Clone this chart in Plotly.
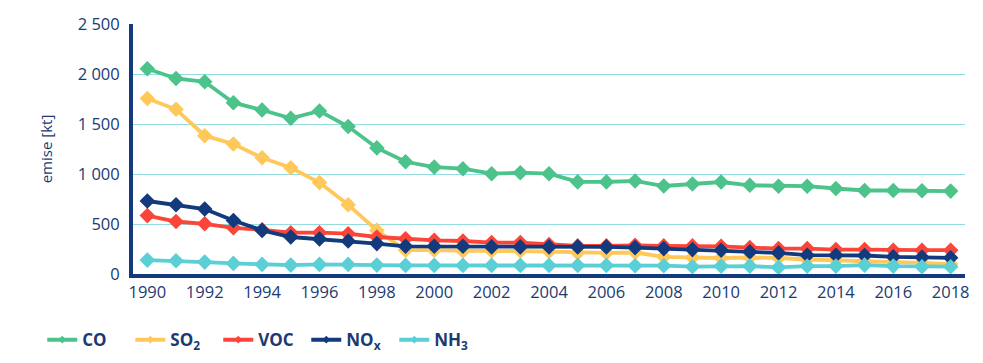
import plotly.graph_objects as go

years = list(range(1990, 2019))

co = [2052, 1955, 1922, 1713, 1640, 1557, 1630, 1475, 1261, 1122, 1069, 1053, 1003, 1013, 1003,
      921, 921, 930, 880, 900, 920, 887, 878, 878, 855, 835, 835, 832, 829]
so2 = [1755, 1647, 1383, 1300, 1162, 1063, 914, 693, 436, 238, 238, 230, 230, 230, 225,
       211, 211, 215, 172, 165, 160, 165, 160, 145, 139, 132, 119, 112, 99]
voc = [584, 525, 502, 462, 442, 413, 413, 403, 370, 353, 337, 330, 314, 314, 294,
       281, 281, 287, 281, 281, 277, 264, 254, 254, 244, 244, 238, 238, 238]
nox = [730, 693, 650, 535, 436, 370, 350, 330, 304, 277, 277, 277, 271, 271, 271,
       271, 271, 264, 254, 244, 238, 221, 211, 188, 188, 185, 172, 168, 162]
nh3 = [139, 132, 119, 106, 96, 89, 96, 96, 89, 86, 86, 86, 86, 86, 86,
       86, 86, 83, 83, 73, 79, 79, 66, 79, 79, 89, 79, 73, 73]

series = [
    ("<b>CO</b>", co, "#4CC38A"),
    ("<b>SO<sub>2</sub></b>", so2, "#FFC85A"),
    ("<b>VOC</b>", voc, "#FB4538"),
    ("<b>NO<sub>x</sub></b>", nox, "#123A7C"),
    ("<b>NH<sub>3</sub></b>", nh3, "#5ACFD6"),
]

x_ticks = list(range(1990, 2019, 2))
y_ticks = [0, 500, 1000, 1500, 2000, 2500]
y_tick_labels = ["0", "500", "1 000", "1 500", "2 000", "2 500"]

navy = "#1B3A72"
fig = go.Figure()
for name, vals, col in series:
    fig.add_trace(go.Scatter(
        x=years, y=vals, name=name, mode="lines+markers", showlegend=False,
        line=dict(color=col, width=3.8),
        marker=dict(symbol="diamond", size=12, color=col),
    ))
# legend entries (small markers, as in the reference legend)
for name, vals, col in series:
    fig.add_trace(go.Scatter(
        x=[None], y=[None], name=name, mode="lines+markers",
        line=dict(color=col, width=4),
        marker=dict(symbol="diamond", size=6, color=col),
    ))

fig.update_layout(
    width=983, height=363,
    margin=dict(l=133, r=18, t=21, b=89),
    plot_bgcolor="white", paper_bgcolor="white",
    font=dict(family="Open Sans, sans-serif", color=navy, size=16),
    showlegend=True,
    legend=dict(
        orientation="h", xref="container", yref="container",
        x=0.043, y=0.063, xanchor="left", yanchor="middle",
        font=dict(size=17, color=navy),
        itemwidth=30, entrywidth=43, entrywidthmode="pixels",
    ),
    xaxis=dict(
        range=[1989.5, 2018.5], tickvals=x_ticks, ticktext=[str(v) for v in x_ticks],
        showgrid=False, zeroline=False,
        showline=True, linecolor="#123A7C", linewidth=4,
        ticks="", tickfont=dict(size=16.5, color=navy),
    ),
    yaxis=dict(
        range=[0, 2500], tickvals=y_ticks, ticktext=y_tick_labels,
        showgrid=True, gridcolor="#93DCDF", gridwidth=1.2,
        zeroline=False,
        showline=True, linecolor="#123A7C", linewidth=4,
        ticks="", ticklabelstandoff=6, tickfont=dict(size=16.5, color=navy),
        title=dict(text="emise [kt]", font=dict(size=15, color=navy), standoff=22),
    ),
)

fig.write_html("out.html", config={"displayModeBar": False},
               post_script="document.body.style.margin='0';")
